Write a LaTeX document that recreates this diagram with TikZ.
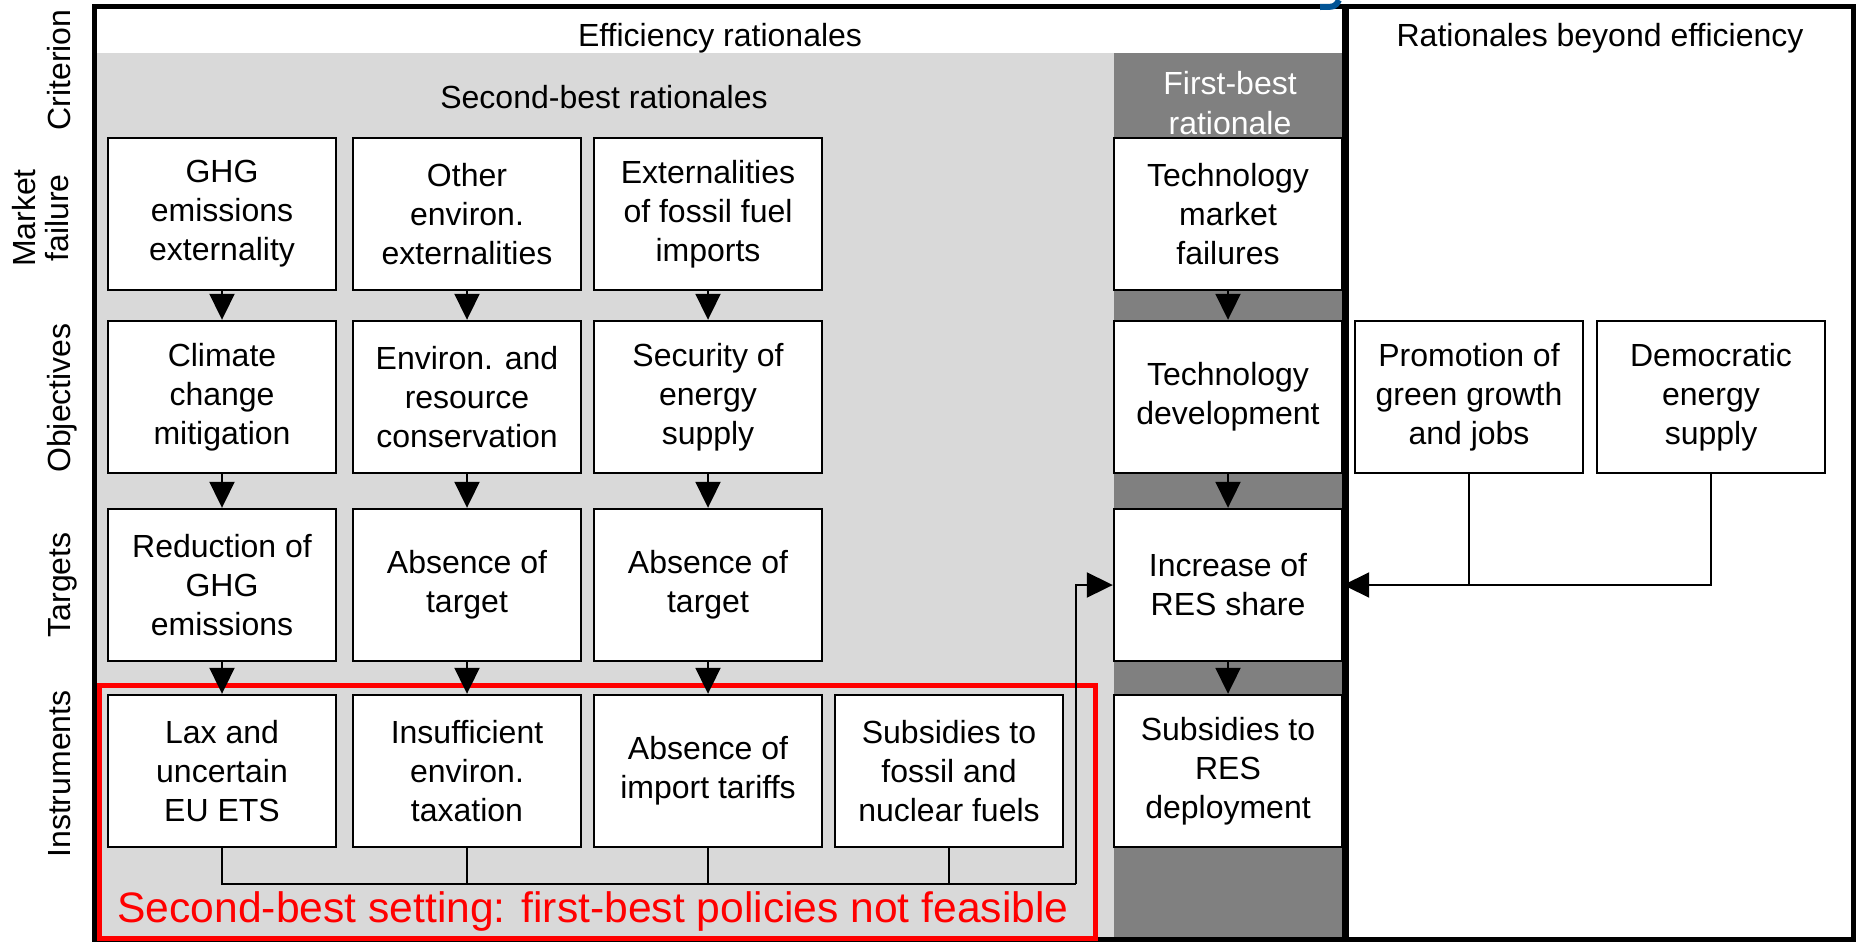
\documentclass[tikz,border=0pt]{standalone}
\usepackage{fontspec}
\setmainfont{Liberation Sans}
\usetikzlibrary{arrows.meta}
\definecolor{secondbest}{RGB}{217,217,217}
\definecolor{firstbest}{RGB}{128,128,128}
\definecolor{setred}{RGB}{255,0,0}
\definecolor{markblue}{RGB}{0,84,150}

\begin{document}
\begin{tikzpicture}[x=0.5pt, y=-0.5pt,
    box/.style={draw, line width=1.2pt, fill=white, minimum width=114pt, minimum height=76pt, inner sep=1pt, align=center, font=\fontsize{16}{19.5}\selectfont},
    lbl/.style={rotate=90, align=center, inner sep=0pt, font=\fontsize{16}{16.5}\selectfont},
    head/.style={align=center, font=\fontsize{16}{20}\selectfont},
    arr/.style={-{Triangle[width=12.5pt,length=13pt]}, line width=1pt},
    bus/.style={line width=1pt}
]
\useasboundingbox (0,0) rectangle (1862,942);
\fill[white] (0,0) rectangle (1862,942);
\fill[secondbest] (94,53) rectangle (1114,940);
\fill[firstbest] (1114,53) rectangle (1345,940);
\draw[line width=2.5pt] (94,6.5) rectangle (1853,939.5);
\draw[line width=3.5pt] (1345.5,6) -- (1345.5,940);
\draw[markblue, line width=3pt] (1339,0) .. controls (1335,7) .. (1320,7);
\draw[setred, line width=2.5pt] (99.5,685.5) rectangle (1095.5,938.5);

% row labels
\node[lbl, anchor=base] (crit) at (70,70) {Criterion};
\node[lbl] (mfail) at (41,218) {Market\\failure};
\node[lbl, anchor=base] (obj) at (70,398) {Objectives};
\node[lbl, anchor=base] (targ) at (70,585) {Targets};
\node[lbl, anchor=base] (instr) at (70,774) {Instruments};

% column heads
\node[head] (effic) at (720,38) {Efficiency rationales};
\node[head] (beyond) at (1600,38) {Rationales beyond efficiency};
\node[head] (second) at (604,97) {Second-best rationales};
\node[head, text=white] (first) at (1230,103) {First-best\\rationale};

\node[box] (ghg) at (222,214) {GHG\\emissions\\externality};
\node[box] (envext) at (467,214) {Other\\environ.\\externalities};
\node[box] (fossext) at (708,214) {Externalities\\of fossil fuel\\imports};
\node[box] (techmf) at (1228,214) {Technology\\market\\failures};

\node[box] (climate) at (222,397) {Climate\\change\\mitigation};
\node[box] (conserv) at (467,397) {Environ. and\\resource\\conservation};
\node[box] (security) at (708,397) {Security of\\energy\\supply};
\node[box] (techdev) at (1228,397) {Technology\\development};
\node[box] (growth) at (1469,397) {Promotion of\\green growth\\and jobs};
\node[box] (democ) at (1711,397) {Democratic\\energy\\supply};

\node[box] (ghgcut) at (222,585) {Reduction of\\GHG\\emissions};
\node[box] (envnotarg) at (467,585) {Absence of\\target};
\node[box] (secnotarg) at (708,585) {Absence of\\target};
\node[box] (resshare) at (1228,585) {Increase of\\RES share};

\node[box] (ets) at (222,771) {Lax and\\uncertain\\EU ETS};
\node[box] (envtax) at (467,771) {Insufficient\\environ.\\taxation};
\node[box] (tariffs) at (708,771) {Absence of\\import tariffs};
\node[box] (fossub) at (949,771) {Subsidies to\\fossil and\\nuclear fuels};
\node[box] (ressub) at (1228,771) {Subsidies to\\RES\\deployment};

\node[text=setred, font=\fontsize{21.3}{24}\selectfont] (setting) at (593,911) {Second-best setting: first-best policies not feasible};

\draw[arr] (ghg.south) -- (climate.north);
\draw[arr] (envext.south) -- (conserv.north);
\draw[arr] (fossext.south) -- (security.north);
\draw[arr] (techmf.south) -- (techdev.north);

\draw[arr] (climate.south) -- (ghgcut.north);
\draw[arr] (conserv.south) -- (envnotarg.north);
\draw[arr] (security.south) -- (secnotarg.north);
\draw[arr] (techdev.south) -- (resshare.north);

\draw[arr] (ghgcut.south) -- (ets.north);
\draw[arr] (envnotarg.south) -- (envtax.north);
\draw[arr] (secnotarg.south) -- (tariffs.north);
\draw[arr] (resshare.south) -- (ressub.north);

\coordinate (busend) at (1076,884);
\draw[bus] (ets.south) |- (busend);
\draw[bus] (envtax.south) -- (envtax.south |- busend);
\draw[bus] (tariffs.south) -- (tariffs.south |- busend);
\draw[bus] (fossub.south) -- (fossub.south |- busend);
\draw[arr] (busend) |- (resshare.west);

\draw[bus] (growth.south) -- (growth.south |- resshare.east);
\draw[arr] (democ.south) |- (resshare.east);
\end{tikzpicture}
\end{document}
